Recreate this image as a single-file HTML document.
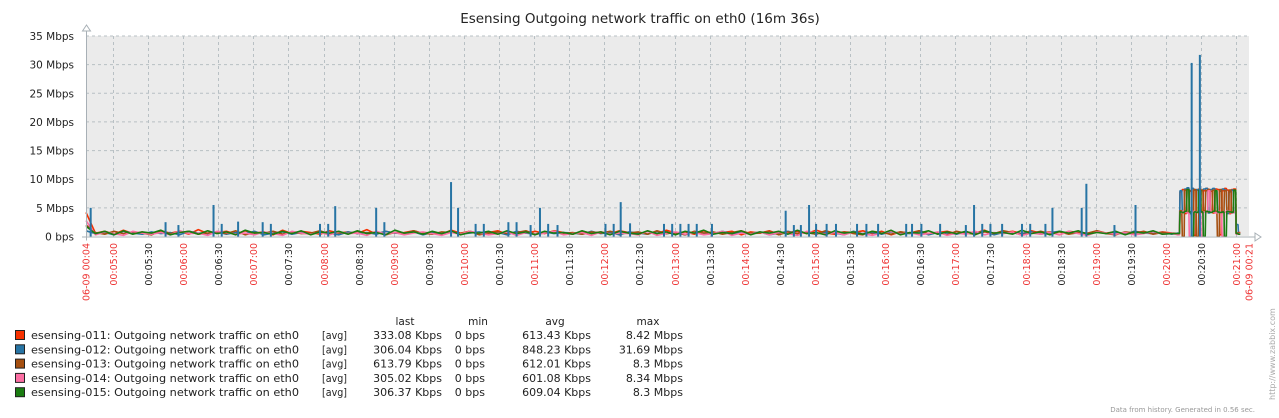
<!DOCTYPE html>
<html><head><meta charset="utf-8"><style>
html,body{margin:0;padding:0;background:#fff;}
svg{display:block;font-family:"DejaVu Sans","Liberation Sans",sans-serif;}
</style></head><body>
<svg id="chart" width="1279" height="418" viewBox="0 0 1279 418">
<text x="640" y="23" text-anchor="middle" font-size="13.5" fill="#222">Esensing Outgoing network traffic on eth0 (16m 36s)</text>
<rect x="86" y="36" width="1163" height="200" fill="#ebebeb"/>
<g id="grid"></g>
<g id="series"></g>
<g id="axes"></g>
<g id="legend"></g>
<text x="1255" y="412" text-anchor="end" font-size="7" fill="#999">Data from history. Generated in 0.56 sec.</text>
<text transform="translate(1275,400) rotate(-90)" font-size="8" fill="#aaa">http://www.zabbix.com</text>
</svg>
<script>
const NS='http://www.w3.org/2000/svg';
// ---- data ----
const yTicks=[0,5,10,15,20,25,30,35];
const yTickLabels=['0 bps','5 Mbps','10 Mbps','15 Mbps','20 Mbps','25 Mbps','30 Mbps','35 Mbps'];
const tStart=277, tEnd=1271; // seconds since 00:00:00
const xTickTimes=[300,330,360,390,420,450,480,510,540,570,600,630,660,690,720,750,780,810,840,870,900,930,960,990,1020,1050,1080,1110,1140,1170,1200,1230,1260];
const seriesNames=['esensing-011','esensing-012','esensing-013','esensing-014','esensing-015'];
const seriesColors=['#F63100','#2774A4','#A54F10','#FC6EA3','#1A7C11'];
const lastVals=['333.08 Kbps','306.04 Kbps','613.79 Kbps','305.02 Kbps','306.37 Kbps'];
const minVals=['0 bps','0 bps','0 bps','0 bps','0 bps'];
const avgVals=['613.43 Kbps','848.23 Kbps','612.01 Kbps','601.08 Kbps','609.04 Kbps'];
const maxVals=['8.42 Mbps','31.69 Mbps','8.3 Mbps','8.34 Mbps','8.3 Mbps'];
// baseline values (Mbps), every 8 s from start, until the burst
const base011=[4.2,0.6,0.9,0.4,1.1,0.5,0.8,0.3,1.0,0.6,0.9,0.4,1.2,0.5,0.7,0.9,0.4,1.0,0.6,0.8,0.3,1.1,0.5,0.9,0.7,0.4,1.0,0.6,0.8,0.5,1.2,0.4,0.9,0.6,0.7,1.0,0.5,0.8,0.4,1.1,0.6,0.9,0.5,0.7,1.0,0.4,0.8,0.6,0.9,0.5,1.0,0.7,0.4,0.9,0.6,0.8,0.5,1.0,0.7,0.3,0.9,0.5,1.1,0.6,0.8,0.4,1.0,0.5,0.7,0.9,0.3,0.8,0.6,1.0,0.4,0.7,0.9,0.5,1.1,0.6,0.4,0.8,0.7,1.0,0.5,0.9,0.3,0.8,0.6,1.0,0.4,0.7,0.9,0.5,0.8,0.6,1.1,0.4,0.7,0.9,0.5,1.0,0.6,0.8,0.3,0.9,0.7,0.5,1.0,0.6,0.8,0.4,0.9,0.7,0.5,0.8,0.6];
const base012=[1.0,0.5,0.7,0.3,0.9,0.6,0.4,0.8,0.5,0.7,0.3,0.9,0.6,0.5,0.8,0.4,0.7,0.5,0.9,0.3,0.6,0.8,0.4,0.7,0.5,0.9,0.6,0.3,0.8,0.5,0.7,0.4,0.9,0.6,0.5,0.8,0.3,0.7,0.5,0.9,0.4,0.6,0.8,0.5,0.7,0.3,0.9,0.6,0.4,0.8,0.5,0.7,0.6,0.4,0.9,0.5,0.7,0.3,0.8,0.6,0.4,0.9,0.5,0.7,0.3,0.8,0.6,0.5,0.9,0.4,0.7,0.5,0.8,0.3,0.6,0.9,0.5,0.7,0.4,0.8,0.6,0.3,0.9,0.5,0.7,0.4,0.8,0.6,0.5,0.9,0.3,0.7,0.6,0.4,0.8,0.5,0.9,0.3,0.7,0.6,0.5,0.8,0.4,0.7,0.9,0.5,0.6,0.3,0.8,0.5,0.7,0.4,0.9,0.6,0.5,0.7,0.4];
const base013=[2.0,0.7,0.4,0.9,0.5,0.8,0.6,0.3,1.0,0.5,0.7,0.9,0.4,0.6,0.8,0.5,1.0,0.3,0.7,0.6,0.9,0.4,0.8,0.5,0.6,1.0,0.4,0.7,0.5,0.9,0.6,0.8,0.3,0.7,0.5,1.0,0.6,0.4,0.8,0.7,0.5,0.9,0.3,0.6,0.8,0.5,0.7,1.0,0.4,0.6,0.9,0.5,0.7,0.4,0.8,0.6,0.9,0.5,0.6,0.8,0.4,1.0,0.5,0.7,0.3,0.9,0.6,0.8,0.4,0.7,1.0,0.5,0.6,0.9,0.3,0.8,0.5,0.7,0.4,1.0,0.6,0.8,0.5,0.3,0.9,0.7,0.4,0.8,0.6,1.0,0.5,0.7,0.3,0.9,0.6,0.4,0.8,0.5,1.0,0.7,0.3,0.6,0.9,0.5,0.8,0.4,0.7,0.6,1.0,0.5,0.3,0.8,0.6,0.9,0.4,0.7,0.5];
const base014=[2.8,0.3,0.8,0.5,0.2,0.9,0.6,0.4,0.7,0.3,1.0,0.5,0.6,0.2,0.9,0.7,0.4,0.6,0.3,0.8,0.5,0.2,0.9,0.6,0.4,0.7,0.3,0.8,0.5,0.6,0.2,0.9,0.4,0.7,0.3,0.6,0.8,0.5,0.2,0.7,0.4,0.9,0.6,0.3,0.5,0.8,0.2,0.7,0.4,0.6,0.9,0.3,0.5,0.7,0.2,0.8,0.4,0.6,0.5,0.3,0.9,0.2,0.6,0.8,0.4,0.7,0.3,0.5,0.9,0.2,0.6,0.4,0.8,0.3,0.7,0.5,0.2,0.9,0.6,0.4,0.7,0.3,0.8,0.5,0.2,0.6,0.9,0.4,0.7,0.3,0.5,0.8,0.2,0.6,0.4,0.9,0.3,0.7,0.5,0.8,0.2,0.6,0.4,0.7,0.3,0.9,0.5,0.2,0.8,0.6,0.4,0.7,0.3,0.5,0.9,0.4,0.6];
const base015=[1.8,0.5,0.9,0.3,1.0,0.4,0.8,0.6,1.1,0.3,0.7,0.9,0.4,1.0,0.5,0.8,0.3,1.1,0.6,0.7,0.4,0.9,0.5,1.0,0.3,0.8,0.6,0.9,0.4,1.0,0.5,0.7,0.3,1.1,0.6,0.8,0.4,0.9,0.5,1.0,0.3,0.7,0.6,0.9,0.4,1.0,0.5,0.8,0.3,0.9,0.6,0.7,0.4,1.0,0.5,0.8,0.3,0.9,0.6,0.4,1.0,0.5,0.8,0.3,0.9,0.6,1.1,0.4,0.7,0.5,1.0,0.3,0.8,0.6,0.9,0.4,1.1,0.5,0.7,0.3,1.0,0.6,0.8,0.4,0.9,0.5,1.1,0.3,0.7,0.6,1.0,0.4,0.8,0.5,0.9,0.3,1.0,0.6,0.7,0.4,1.1,0.5,0.8,0.3,0.9,0.6,1.0,0.4,0.7,0.5,0.9,0.3,0.8,0.6,1.0,0.4,0.5];
const baseStep=8;
// burst (Mbps), every 2 s starting at burstStart
const burstStart=1210;
const burst011=[0.5,7.8,8.2,4.0,8.3,7.9,8.4,0.2,8.1,8.3,4.2,8.0,8.4,8.2,7.9,4.1,8.3,8.2,0.3,8.0,8.4,8.1,4.0,8.2,8.3,0.5,0.6];
const burst012=[0.6,8.0,4.2,8.3,8.5,4.0,8.4,8.1,8.2,4.3,8.0,8.3,8.4,4.1,8.2,8.4,8.0,4.2,7.9,8.3,8.1,4.0,7.8,8.1,4.2,2.1,0.5];
const burst013=[0.4,4.5,0.0,8.1,4.2,8.0,4.4,8.2,0.0,4.3,8.1,4.5,8.0,8.2,4.3,8.1,4.4,0.0,8.2,4.2,8.0,4.4,8.1,4.3,8.0,0.6,0.7];
const burst014=[0.3,4.2,4.4,4.3,4.1,0.0,4.4,4.2,4.3,4.5,0.0,4.3,4.2,8.0,4.4,4.3,4.1,4.4,4.2,0.0,4.3,4.5,4.2,4.1,4.3,0.4,0.5];
const burst015=[0.5,4.3,4.2,4.4,8.2,4.3,0.0,4.3,4.2,8.1,4.3,0.0,4.4,4.3,4.2,4.4,8.0,4.3,4.2,4.3,0.0,4.4,4.3,4.2,8.1,0.5,0.4];
// blue spikes: seconds since start and Mbps (paired)
const spikeTimes012=[4,68,79,109,116,130,151,158,200,207,213,248,255,312,318,333,340,361,368,380,388,395,403,444,451,457,465,494,501,508,515,522,535,598,605,611,618,624,633,641,659,667,677,701,706,714,730,752,759,766,773,783,800,807,820,826,851,855,879,897,945,952];
const spikeVals012= [5,2.5,2,5.5,2.2,2.6,2.5,2.2,2.2,2.2,5.3,5,2.5,9.5,5,2.2,2.2,2.5,2.5,2,5,2.2,2,2.2,2.2,6,2.3,2.2,2.2,2.2,2.2,2.2,2.2,4.5,2,2,5.5,2.2,2.2,2.2,2.2,2.2,2.2,2.2,2.2,2.2,2.2,2,5.5,2.2,2.2,2.2,2.2,2.2,2.2,5,5,9.2,2,5.5,30.3,31.7];
const baseSeries=[base011,base012,base013,base014,base015];
const burstSeries=[burst011,burst012,burst013,burst014,burst015];

// ---- scales ----
const X0=86,X1=1249,Y0=236.5,Y1=36;
const xs=t=>X0+(t-tStart)/(tEnd-tStart)*(X1-X0);
const ys=v=>Y0-v/35*(Y0-Y1);
function el(tag,attrs,parent){const e=document.createElementNS(NS,tag);for(const k in attrs)e.setAttribute(k,attrs[k]);parent.appendChild(e);return e;}
const grid=document.getElementById('grid'),axes=document.getElementById('axes'),ser=document.getElementById('series'),leg=document.getElementById('legend');
function fmt(t){const m=Math.floor(t/60),s=t%60;return '00:'+String(m).padStart(2,'0')+':'+String(s).padStart(2,'0');}

yTicks.forEach((v,i)=>{
  if(v>0){const g=el('line',{x1:X0,x2:X1,y1:ys(v),y2:ys(v),stroke:'#b8c0c4','stroke-dasharray':'3,3','stroke-width':1},grid);
  
  }
  const t=el('text',{x:74,y:ys(v)+4,'text-anchor':'end','font-size':10.5,fill:'#222'},axes);t.textContent=yTickLabels[i];
  
  
});
xTickTimes.forEach(tt=>{
  const x=Math.round(xs(tt))+0.5;
  const g=el('line',{x1:x,x2:x,y1:Y1,y2:Y0,stroke:'#b8c0c4','stroke-dasharray':'3,3','stroke-width':1},grid);
  
  
  const red=tt%60===0;
  const t=el('text',{transform:`translate(${x+3.5},243) rotate(-90)`,'text-anchor':'end','font-size':9.5,fill:red?'#e33':'#222'},axes);
  t.textContent=fmt(tt);
  
  
});
[[tStart,'06-09 00:04'],[tEnd,'06-09 00:21']].forEach(([tt,lab])=>{
  const t=el('text',{transform:`translate(${xs(tt)+3.5},243) rotate(-90)`,'text-anchor':'end','font-size':9.5,fill:'#e33'},axes);
  t.textContent=lab;
  
  
});

// series
baseSeries.forEach((b,si)=>{
  const pts=[];
  b.forEach((v,i)=>{const t=tStart+i*baseStep; if(t<burstStart) pts.push([t,v]);});
  burstSeries[si].forEach((v,i)=>{pts.push([burstStart+i*2,v]);pts.push([burstStart+i*2+1.6,v]);});
  const d=pts.map((p,i)=>(i?'L':'M')+xs(p[0]).toFixed(1)+','+ys(p[1]).toFixed(1)).join(' ');
  const p=el('path',{d:d,fill:'none',stroke:seriesColors[si],'stroke-width':1.6,'stroke-linejoin':'bevel'},ser);
  
  
});
spikeTimes012.forEach((st,i)=>{
  const v=spikeVals012[i];
  const r=el('rect',{x:xs(tStart+st)-1,y:ys(v),width:2,height:Y0-ys(v),fill:seriesColors[1]},ser);
  
  
});

// axes lines
el('line',{x1:X0+0.5,x2:X0+0.5,y1:30,y2:Y0+4,stroke:'#a8b0b6','stroke-width':1},axes);
el('line',{x1:X0-4,x2:X1+6,y1:Y0+0.5,y2:Y0+0.5,stroke:'#a8b0b6','stroke-width':1},axes);
el('path',{d:`M${X0-3.5},31 L${X0+0.5},25 L${X0+4.5},31 Z`,fill:'#fff',stroke:'#a8b0b6'},axes);
el('path',{d:`M${X1+6},${Y0-3.5} L${X1+12},${Y0+0.5} L${X1+6},${Y0+4.5} Z`,fill:'#fff',stroke:'#a8b0b6'},axes);

// legend
[['last',405],['min',478],['avg',555],['max',648]].forEach(([h,x])=>{
  const t=el('text',{x:x,y:325,'text-anchor':'middle','font-size':10.5,fill:'#222'},leg);t.textContent=h;
  
  
});
seriesNames.forEach((n,i)=>{
  const y=335+i*14.3;
  const g=el('g',{},leg);
  
  
  el('rect',{x:15.5,y:y-4.5,width:9,height:9,fill:seriesColors[i],stroke:'#222','stroke-width':1},g);
  const t=el('text',{x:31,y:y+4,'font-size':11,fill:'#222',textLength:268,lengthAdjust:'spacingAndGlyphs'},g);t.textContent=n+': Outgoing network traffic on eth0';
  const a=el('text',{x:322,y:y+4,'font-size':11,fill:'#222',textLength:25,lengthAdjust:'spacingAndGlyphs'},g);a.textContent='[avg]';
  [[lastVals,442],[minVals,485],[avgVals,591],[maxVals,683]].forEach(([arr,x])=>{
    const v=el('text',{x:x,y:y+4,'text-anchor':'end','font-size':11,fill:'#222'},g);v.textContent=arr[i];
  });
});
</script>
</body></html>
